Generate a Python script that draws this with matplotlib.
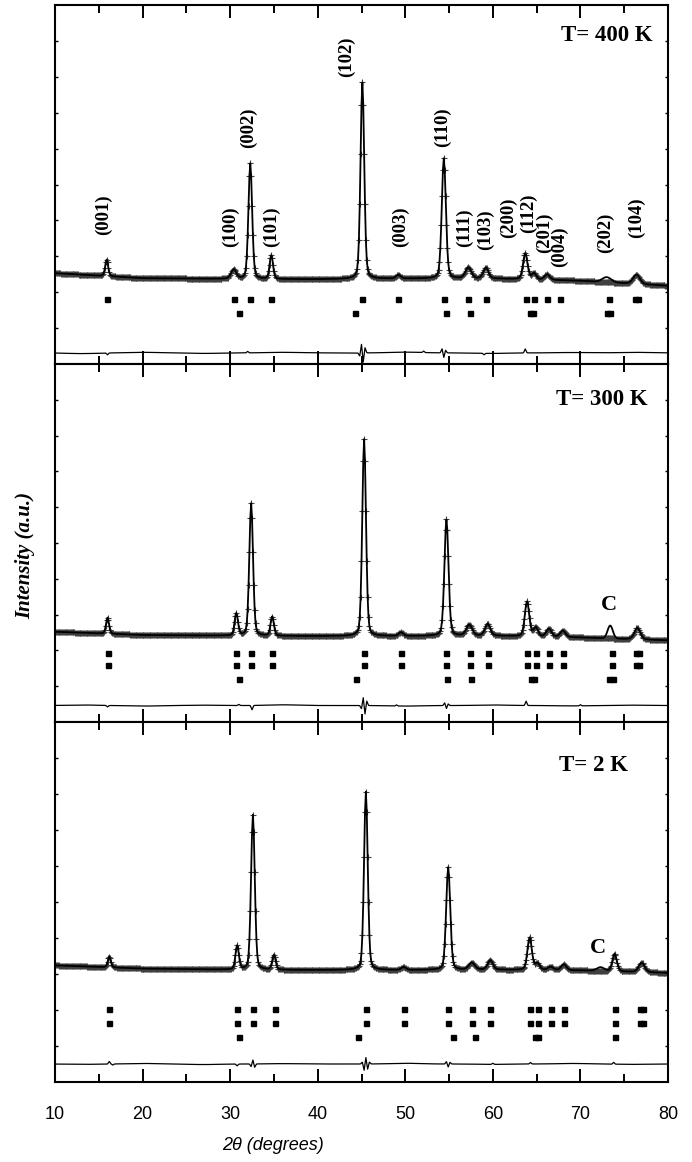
import numpy as np
import matplotlib.pyplot as plt

# measured 2theta grid (degrees)
two_theta = np.arange(10.0, 80.001, 0.1)

# background anchor points (same for each temperature)
bg_x = [10, 20, 30, 40, 50, 60, 70, 80]
# slow ripple positions of the difference curves
ripple_x = [13, 20, 27, 36, 50, 60, 69, 76]

# ---------------- T = 400 K ----------------
bg_400 = [25.3, 23.9, 23.7, 23.6, 23.8, 23.8, 23.2, 21.8]
pk_pos_400 = [15.9, 30.4, 32.3, 34.7, 45.1, 49.2, 54.4, 57.2, 59.2, 63.7, 64.7, 66.2, 76.4]
pk_hgt_400 = [4.6, 2.6, 32.2, 6.6, 54.7, 1.0, 33.5, 3.0, 3.0, 7.2, 1.7, 1.5, 2.6]
pk_fwhm_400 = [0.4, 0.7, 0.5, 0.45, 0.5, 0.6, 0.55, 0.8, 0.7, 0.6, 0.6, 0.7, 0.9]
extra_pos_400 = [73.0]      # hump seen only in the fitted curve
extra_hgt_400 = [1.4]
extra_fwhm_400 = [1.2]
bragg1_400 = [15.9, 30.4, 32.3, 34.7, 45.1, 49.2, 54.4, 57.2, 59.2, 63.8, 64.7, 66.2, 67.7, 73.3, 76.2, 76.6]
bragg2_400 = [31.0, 44.3, 54.6, 57.4, 64.2, 64.6, 73.0, 73.4]
diff_base_400 = 3.1
diff_pos_400 = [16.0, 32.0, 44.8, 45.0, 45.2, 45.4, 52.1, 54.2, 54.4, 54.6, 59.0, 63.7]
diff_val_400 = [-0.5, 0.4, -1.0, 2.6, -2.8, 1.6, 0.4, 1.2, -1.4, 0.8, -0.4, 1.1]
ripple_400 = [-0.2, 0.15, -0.15, 0.15, 0.2, -0.15, 0.1, 0.15]
labels_400 = ["(001)", "(100)", "(002)", "(101)", "(102)", "(003)", "(110)", "(111)",
              "(103)", "(200)", "(112)", "(201)", "(004)", "(202)", "(104)"]
label_x_400 = [15.5, 30.0, 32.1, 34.7, 43.3, 49.4, 54.3, 56.8, 59.2, 61.8, 64.1, 65.9, 67.6, 72.9, 76.4]
label_y_400 = [35.9, 32.6, 60.2, 32.6, 79.9, 32.6, 60.4, 32.6, 31.8, 35.1, 36.5, 30.9, 27.0, 30.9, 35.1]

# ---------------- T = 300 K ----------------
bg_300 = [25.2, 24.3, 24.1, 24.0, 24.0, 24.1, 23.6, 22.8]
pk_pos_300 = [16.0, 30.7, 32.4, 34.8, 45.3, 49.5, 54.7, 57.3, 59.4, 63.9, 64.9, 66.4, 68.0, 76.5]
pk_hgt_300 = [4.5, 6.2, 37.0, 5.3, 55.0, 1.0, 32.5, 3.0, 3.3, 9.7, 2.5, 2.2, 1.8, 3.2]
pk_fwhm_300 = [0.4, 0.45, 0.5, 0.45, 0.5, 0.6, 0.55, 0.8, 0.7, 0.6, 0.6, 0.7, 0.7, 0.8]
extra_pos_300 = [73.4]
extra_hgt_300 = [3.6]
extra_fwhm_300 = [0.7]
bragg1_300 = [16.0, 30.7, 32.4, 34.8, 45.3, 49.5, 54.7, 57.4, 59.4, 63.9, 64.9, 66.4, 68.0, 73.6, 76.3, 76.7]
bragg2_300 = bragg1_300
bragg3_300 = [31.0, 44.4, 54.8, 57.5, 64.3, 64.7, 73.3, 73.7]
diff_base_300 = 4.6
diff_pos_300 = [16.0, 31.0, 32.5, 45.0, 45.2, 45.4, 45.6, 49.0, 54.5, 54.7, 54.9, 63.8, 70.0]
diff_val_300 = [-0.4, 0.3, -1.2, -1.0, 2.4, -2.6, 1.4, 0.3, 0.8, -0.9, 0.5, 1.2, 0.3]
ripple_300 = [0.15, -0.15, 0.1, 0.2, -0.15, 0.15, -0.1, 0.1]
c_x_300, c_y_300 = 73.2, 32.6

# ---------------- T = 2 K ----------------
bg_2 = [32.4, 31.5, 31.2, 31.1, 31.1, 31.2, 31.0, 30.3]
pk_pos_2 = [16.2, 30.8, 32.6, 35.0, 45.5, 49.8, 54.9, 57.6, 59.7, 64.2, 65.1, 66.6, 68.1, 73.9, 77.0]
pk_hgt_2 = [3.0, 6.6, 43.0, 4.1, 49.5, 0.8, 28.5, 1.9, 2.6, 9.0, 1.8, 0.9, 1.6, 4.9, 2.6]
pk_fwhm_2 = [0.4, 0.45, 0.5, 0.45, 0.5, 0.6, 0.55, 0.8, 0.7, 0.6, 0.6, 0.7, 0.7, 0.6, 0.8]
extra_pos_2 = [72.3]
extra_hgt_2 = [1.0]
extra_fwhm_2 = [1.0]
bragg1_2 = [16.2, 30.8, 32.6, 35.1, 45.5, 49.8, 54.9, 57.6, 59.7, 64.2, 65.1, 66.6, 68.1, 73.9, 76.8, 77.2]
bragg2_2 = bragg1_2
bragg3_2 = [31.0, 44.6, 55.5, 58.0, 64.8, 65.1, 73.9]
diff_base_2 = 5.0
diff_pos_2 = [16.2, 16.6, 30.8, 32.4, 32.6, 32.8, 45.1, 45.3, 45.5, 45.7, 45.9, 54.7, 54.9, 55.1, 60.0, 64.3, 73.8]
diff_val_2 = [0.7, -0.3, -0.5, -0.8, 1.2, -1.0, 0.6, -1.9, 2.0, -1.6, 0.6, 0.7, -0.9, 0.5, 0.3, 0.4, 0.5]
ripple_2 = [-0.1, 0.15, -0.15, 0.1, 0.2, -0.1, 0.15, -0.1]
c_x_2, c_y_2 = 72.0, 37.2

temps = ["T= 400 K", "T= 300 K", "T= 2 K"]
temp_x = [78.3, 77.7, 75.4]
temp_y = [91.4, 90.2, 87.8]


def peak_sum(x, pos, hgt, fwhm, eta=0.25):
    # pseudo-Voigt peaks
    out = np.zeros_like(x)
    for p, h, w in zip(pos, hgt, fwhm):
        g = np.exp(-4 * np.log(2) * ((x - p) / w) ** 2)
        lor = 1.0 / (1.0 + 4 * ((x - p) / w) ** 2)
        out += h * ((1 - eta) * g + eta * lor)
    return out


def diff_curve(x, base, pos, val, ripple):
    out = np.full_like(x, base)
    out += peak_sum(x, pos, val, [0.2] * len(pos), eta=0.0)
    out += peak_sum(x, ripple_x, ripple, [4.0] * len(ripple_x), eta=0.0)
    return out


serif = ["Liberation Serif", "DejaVu Serif"]
sans = ["Liberation Sans Narrow", "Liberation Sans", "DejaVu Sans"]

fig = plt.figure(figsize=(6.92, 11.62), dpi=100)
left, width = 55 / 692, 613 / 692
panel_px = [(5, 364), (364, 722), (722, 1082)]

panels = [
    (bg_400, pk_pos_400, pk_hgt_400, pk_fwhm_400, extra_pos_400, extra_hgt_400, extra_fwhm_400,
     [bragg1_400, bragg2_400], [18.2, 14.2], diff_base_400, diff_pos_400, diff_val_400, ripple_400),
    (bg_300, pk_pos_300, pk_hgt_300, pk_fwhm_300, extra_pos_300, extra_hgt_300, extra_fwhm_300,
     [bragg1_300, bragg2_300, bragg3_300], [19.2, 15.9, 12.0], diff_base_300, diff_pos_300, diff_val_300,
     ripple_300),
    (bg_2, pk_pos_2, pk_hgt_2, pk_fwhm_2, extra_pos_2, extra_hgt_2, extra_fwhm_2,
     [bragg1_2, bragg2_2, bragg3_2], [20.3, 16.4, 12.5], diff_base_2, diff_pos_2, diff_val_2, ripple_2),
]

axes = []
for i, (top, bot) in enumerate(panel_px):
    ax = fig.add_axes([left, 1 - bot / 1162, width, (bot - top) / 1162])
    axes.append(ax)
    (bg, pp, ph, pw, ep, eh, ew, braggs, bragg_y, dbase, dpos, dval, rip) = panels[i]

    background = np.interp(two_theta, bg_x, bg)
    obs = background + peak_sum(two_theta, pp, ph, pw)
    calc = obs + peak_sum(two_theta, ep, eh, ew, eta=0.0)
    diff = diff_curve(two_theta, dbase, dpos, dval, rip)

    ax.plot(two_theta, obs, ls="none", marker="+", ms=4.2, mew=0.8, color="#404040", zorder=2)
    ax.plot(two_theta, calc, color="black", lw=1.3, zorder=3)
    for row, yrow in zip(braggs, bragg_y):
        ax.plot(row, [yrow] * len(row), ls="none", marker="s", ms=3.6, color="black")
    ax.plot(two_theta, diff, color="black", lw=0.9)

    ax.set_xlim(10, 80)
    ax.set_ylim(0, 100)
    ax.set_xticks(np.arange(10, 81, 10))
    ax.set_xticks(np.arange(15, 80, 10), minor=True)
    ax.set_yticks(np.arange(10, 100, 10))
    ax.set_yticklabels([])
    ax.tick_params(axis="x", which="major", direction="in", top=True, bottom=True, length=9.4, width=1.4)
    ax.tick_params(axis="x", which="minor", direction="in", top=True, bottom=True, length=5.8, width=1.4)
    ax.tick_params(axis="y", which="major", direction="in", left=True, right=True, length=2.2, width=1.0)
    for s in ax.spines.values():
        s.set_linewidth(1.5)
    if i < 2:
        ax.set_xticklabels([])
    else:
        ax.tick_params(axis="x", which="major", pad=17)
        for lab in ax.get_xticklabels():
            lab.set_family(sans)
            lab.set_fontsize(13)

    ax.text(temp_x[i], temp_y[i], temps[i], ha="right", va="center",
            family=serif, fontweight="bold", fontsize=16.5)

# Miller indices on the 400 K pattern
for lab, lx, ly in zip(labels_400, label_x_400, label_y_400):
    axes[0].text(lx, ly, lab, rotation=90, ha="center", va="bottom",
                 family=serif, fontweight="bold", fontsize=13.5)

axes[1].text(c_x_300, c_y_300, "C", ha="center", va="center", family=serif, fontweight="bold", fontsize=16)
axes[2].text(c_x_2, c_y_2, "C", ha="center", va="center", family=serif, fontweight="bold", fontsize=16)

fig.text(25 / 692, 1 - 555 / 1162, "Intensity (a.u.)", rotation=90, ha="center", va="center",
         family=serif, fontweight="bold", fontstyle="italic", fontsize=15)
fig.text(273 / 692, 1 - 1146 / 1162, "2θ (degrees)", ha="center", va="center",
         family=sans, fontstyle="italic", fontsize=13)

fig.savefig("out.png", dpi=100)
